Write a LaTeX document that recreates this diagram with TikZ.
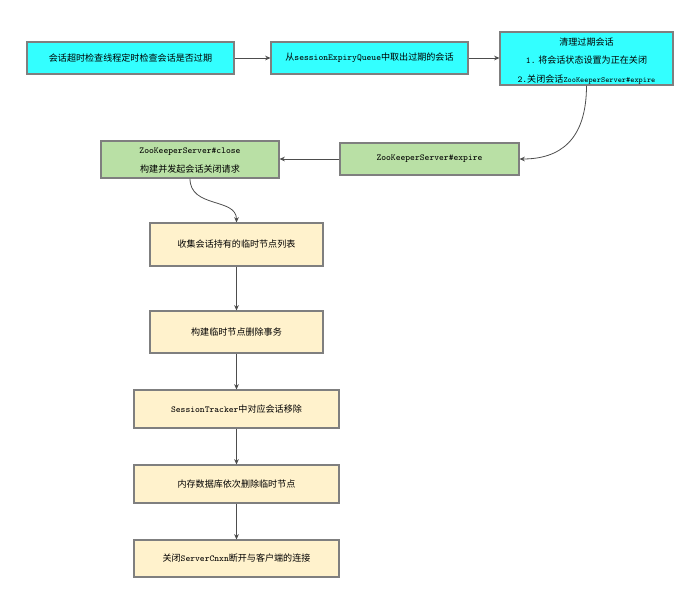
\documentclass[tikz,border=0pt]{standalone}
\usepackage{fontspec}
\newfontfamily\cjk{Noto Sans CJK SC}
\usetikzlibrary{arrows.meta}
\definecolor{cyanfill}{HTML}{33FFFF}
\definecolor{greenfill}{HTML}{B9E0A5}
\definecolor{yellowfill}{HTML}{FFF2CC}
\definecolor{edgegray}{HTML}{7F7F7F}
\definecolor{linegray}{HTML}{4D4D4D}
\tikzset{
  box/.style={draw=edgegray, line width=0.8pt, inner sep=0pt, align=center,
    font=\cjk\fontsize{6.8}{13.9}\selectfont},
  cbox/.style={box, fill=cyanfill},
  gbox/.style={box, fill=greenfill},
  ybox/.style={box, fill=yellowfill},
  txt/.style={inner sep=0pt, align=center, font=\cjk\fontsize{6.8}{13.9}\selectfont},
  conn/.style={draw=linegray, line width=0.6pt, -{Stealth[length=4pt,width=3.5pt]}}
}
\begin{document}
\begin{tikzpicture}[x=0.75pt,y=-0.75pt]
\useasboundingbox (0,0) rectangle (700,604);
\node[cbox, minimum width=155.25pt, minimum height=24pt] (a) at (130.5,58) {会话超时检查线程定时检查会话是否过期};
\node[cbox, minimum width=147.75pt, minimum height=24pt] (b) at (369.5,58) {从\texttt{sessionExpiryQueue}中取出过期的会话};
\node[cbox, minimum width=129.75pt, minimum height=39.75pt] (c) at (586.5,58.5) {};
\node[txt] (ct) at ([yshift=-1.6pt]c.center) {清理过期会话\\\texttt{1.} 将会话状态设置为正在关闭\\\texttt{2.}关闭会话{\fontsize{5.9}{13.9}\selectfont\texttt{ZooKeeperServer\#expire}}};
\node[gbox, minimum width=134.25pt, minimum height=24pt] (d) at (429.5,159) {\texttt{ZooKeeperServer\#expire}};
\node[gbox, minimum width=133.5pt, minimum height=27.75pt] (e) at (190,159.5) {};
\node[txt] (et) at ([yshift=-1pt]e.center) {\texttt{ZooKeeperServer\#close}\\构建并发起会话关闭请求};
\node[ybox, minimum width=129.75pt, minimum height=32.25pt] (f) at (236.5,244.5) {收集会话持有的临时节点列表};
\node[ybox, minimum width=129.75pt, minimum height=31.5pt] (g) at (236.5,332) {构建临时节点删除事务};
\node[ybox, minimum width=153.75pt, minimum height=28.5pt] (h) at (236.5,409) {\texttt{SessionTracker}中对应会话移除};
\node[ybox, minimum width=153.75pt, minimum height=28.5pt] (i) at (236.5,484) {内存数据库依次删除临时节点};
\node[ybox, minimum width=153.75pt, minimum height=27.75pt] (j) at (236.5,558.5) {关闭\texttt{ServerCnxn}断开与客户端的连接};
\draw[conn] (a.east) -- (b.west);
\draw[conn] (b.east) -- (c.west |- b.east);
\draw[conn] (c.south) .. controls +(0,55) and +(40,0) .. (d.east);
\draw[conn] (d.west) -- (e.east |- d.west);
\draw[conn] (e.south) .. controls +(0,30) and +(0,-25) .. (f.north);
\draw[conn] (f.south) -- (g.north);
\draw[conn] (g.south) -- (h.north);
\draw[conn] (h.south) -- (i.north);
\draw[conn] (i.south) -- (j.north);
\end{tikzpicture}
\end{document}
